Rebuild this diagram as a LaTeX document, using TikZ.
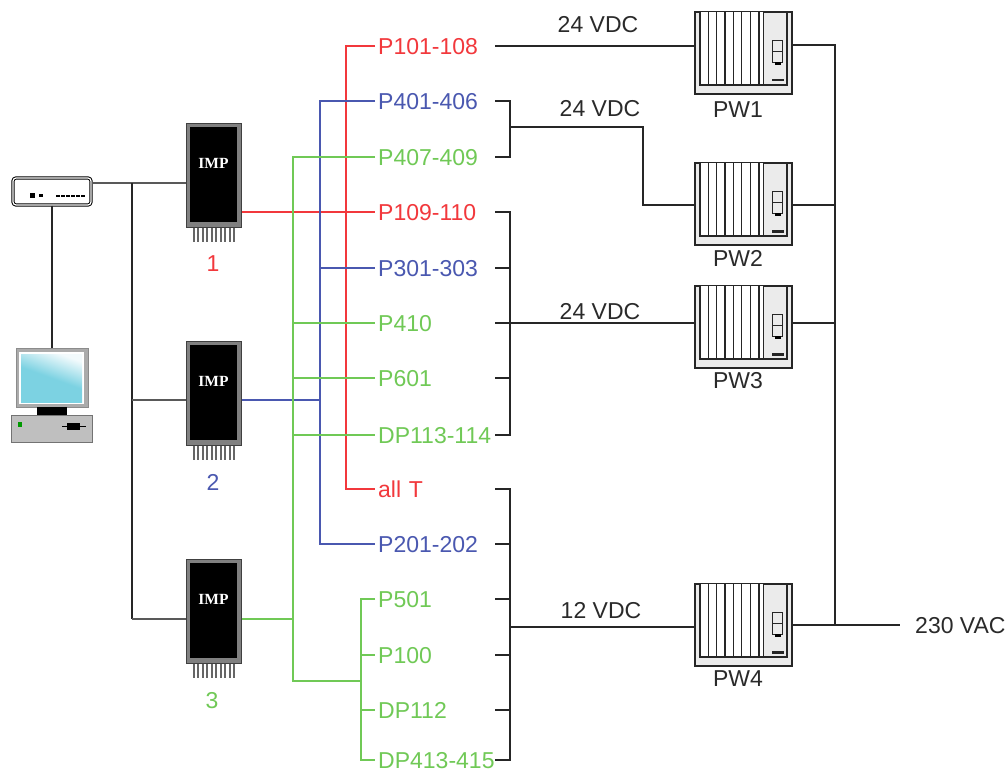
\documentclass[tikz,border=0pt]{standalone}
\usepackage{fontspec}
\setmainfont{Liberation Sans}
\newfontfamily\impfont{Liberation Serif}
\definecolor{cred}{HTML}{F2383C}
\definecolor{cblue}{HTML}{4A58B0}
\definecolor{cgreen}{HTML}{70C956}
\definecolor{ctext}{HTML}{2A2A2A}
\definecolor{scrA}{HTML}{F2FAFC}
\definecolor{scrB}{HTML}{7CD2E2}
\tikzset{
  wire/.style={line width=1.3pt,draw=black!85},
  rwire/.style={line width=1.3pt,draw=cred},
  bwire/.style={line width=1.3pt,draw=cblue},
  gwire/.style={line width=1.3pt,draw=cgreen},
  port/.style={anchor=west,inner xsep=3pt,inner ysep=0pt,text width=114pt,align=left,
    text height=16.5pt,text depth=0pt,font=\fontsize{23}{25}\selectfont},
  plain/.style={inner sep=0pt,text=ctext,font=\fontsize{23}{25}\selectfont},
  chipbody/.style={draw=black!75,line width=1pt,fill=black!50,minimum width=55pt,minimum height=104pt,inner sep=0pt},
  pwbody/.style={draw=black!85,line width=1.1pt,fill=black!8,minimum width=97pt,minimum height=82pt,inner sep=0pt},
}
\newcommand{\impchip}[3]{% name, cx, cy (centre of body)
  \foreach \k in {0,...,9} {\draw[black!60,line width=2pt] (#2-20+\k*4.5,#3+52) -- (#2-20+\k*4.5,#3+67);}
  \node[chipbody] (#1) at (#2,#3) {};
  \fill[black] (#2-23.5,#3-48) rectangle (#2+23.5,#3+46.5);
  \node[inner sep=0pt,text=white,font=\impfont\bfseries\fontsize{15.5}{16}\selectfont] at (#2,#3-12) {IMP};
}
\newcommand{\pwunit}[3]{% name, cx, cy
  \node[pwbody] (#1) at (#2,#3) {};
  \fill[white] (#2-43.5,#3-41) rectangle (#2+20,#3+32);
  \draw[black!85,line width=1.1pt] (#2-43.5,#3-41) -- (#2-43.5,#3+32) -- (#2+43.5,#3+32) -- (#2+43.5,#3-41);
  \foreach \k in {8.3,16.6,25,33.3,41.6,50.5,59,63.5} {\draw[black!85,line width=1.1pt] (#2-43.5+\k,#3-41) -- (#2-43.5+\k,#3+32);}
  \draw[black!85,line width=.9pt,fill=black!8] (#2+29,#3-13) rectangle (#2+39,#3+9);
  \draw[black!85,line width=.9pt] (#2+29,#3-2) -- (#2+39,#3-2);
  \fill[black] (#2+31,#3+9) rectangle (#2+37,#3+12);
  \fill[black!85] (#2+28,#3+26) rectangle (#2+40,#3+28.5);
}
\begin{document}
\begin{tikzpicture}[x=1pt,y=-1pt]
\useasboundingbox (0,0) rectangle (1008,773);
\fill[white] (0,0) rectangle (1008,773);
% switch
\node[draw=black,line width=1pt,double=white,double distance=1.2pt,rounded corners=3pt,fill=white,minimum width=78pt,minimum height=27pt,inner sep=0pt] (sw) at (52,191.5) {};
\fill[black] (30,193) rectangle (35,198);
\fill[black] (39,194) rectangle (43,197);
\foreach \k in {0,...,5} {\fill[black] (55.5+\k*5,194.5) rectangle (59.5+\k*5,197);}
% computer
\node[draw=black!45,line width=.8pt,fill=black!33,minimum width=72pt,minimum height=59pt,inner sep=0pt] (pc) at (52,378) {};
\fill[white] (19,352) rectangle (84,404);
\shade[left color=scrA,right color=scrB,shading angle=-20,middle color=scrB] (21,354) rectangle (82,402);
\fill[black] (37,407) rectangle (67,415);
\node[draw=black!55,line width=1pt,fill=black!25,minimum width=81pt,minimum height=27pt,inner sep=0pt] (tower) at (52,428.5) {};
\fill[green!60!black] (18,422) rectangle (22,427);
\fill[black] (62,425.5) rectangle (86,427);
\fill[black] (67,423) rectangle (80,429.5);
% chips
\impchip{imp1}{213.5}{175}
\impchip{imp2}{213.5}{393}
\impchip{imp3}{213.5}{611}
% labels
\node[port,text=cred] (p101) at (375,46) {P101-108};
\node[port,text=cblue] (p401) at (375,101) {P401-406};
\node[port,text=cgreen] (p407) at (375,157) {P407-409};
\node[port,text=cred] (p109) at (375,212) {P109-110};
\node[port,text=cblue] (p301) at (375,268) {P301-303};
\node[port,text=cgreen] (p410) at (375,323) {P410};
\node[port,text=cgreen] (p601) at (375,378) {P601};
\node[port,text=cgreen] (dp113) at (375,435) {DP113-114};
\node[port,text=cred] (allt) at (375,489) {all T};
\node[port,text=cblue] (p201) at (375,544) {P201-202};
\node[port,text=cgreen] (p501) at (375,599) {P501};
\node[port,text=cgreen] (p100) at (375,655) {P100};
\node[port,text=cgreen] (dp112) at (375,710) {DP112};
\node[port,text=cgreen] (dp413) at (375,760) {\mbox{DP413-415}};
% numbers
\node[inner sep=0pt,text=cred,font=\fontsize{23}{25}\selectfont] (n1) at (213,264) {1};
\node[inner sep=0pt,text=cblue,font=\fontsize{23}{25}\selectfont] (n2) at (213,482) {2};
\node[inner sep=0pt,text=cgreen,font=\fontsize{23}{25}\selectfont] (n3) at (212,701) {3};
% power units
\pwunit{pw1}{743.5}{53}
\pwunit{pw2}{743.5}{204}
\pwunit{pw3}{743.5}{327}
\pwunit{pw4}{743.5}{625}
\node[plain] (lpw1) at (738,110) {PW1};
\node[plain] (lpw2) at (738,258) {PW2};
\node[plain] (lpw3) at (738,381) {PW3};
\node[plain] (lpw4) at (738,679) {PW4};
\node[plain] (v1) at (598,25) {24 VDC};
\node[plain] (v2) at (600,109) {24 VDC};
\node[plain] (v3) at (600,312) {24 VDC};
\node[plain] (v4) at (601,611) {12 VDC};
\node[plain,anchor=west] (ac) at (915,626) {230 VAC};
% junctions
\coordinate (jnet) at (132,183);
\coordinate (jr) at (346,46);
\coordinate (jb) at (320,101);
\coordinate (jg) at (293,157);
\coordinate (jg2) at (361,599);
\coordinate (ba) at (510,127);
\coordinate (bb) at (510,323);
\coordinate (bc) at (510,627);
\coordinate (bus) at (835,45);
\coordinate (acend) at (900,625);
% network
\draw[wire,draw=black!65] (sw.east |- jnet) -- (imp1.west |- jnet);
\draw[wire] (jnet) -- (jnet |- 0,619);
\draw[wire,draw=black!65] (jnet |- 0,400) -- (imp2.west |- 0,400);
\draw[wire,draw=black!65] (jnet |- 0,619) -- (imp3.west |- 0,619);
\draw[wire] (sw.south) -- (pc.north);
% red
\draw[rwire] (p101.west) -- (jr) -- (jr |- allt.west) -- (allt.west);
\draw[rwire] (imp1.east |- p109.west) -- (p109.west);
% blue
\draw[bwire] (p401.west) -- (jb) -- (jb |- p201.west) -- (p201.west);
\draw[bwire] (jb |- p301.west) -- (p301.west);
\draw[bwire] (imp2.east |- 0,400) -- (jb |- 0,400);
% green
\draw[gwire] (p407.west) -- (jg) -- (jg |- 0,681) -- (jg2 |- 0,681);
\draw[gwire] (jg |- p410.west) -- (p410.west);
\draw[gwire] (jg |- p601.west) -- (p601.west);
\draw[gwire] (jg |- dp113.west) -- (dp113.west);
\draw[gwire] (imp3.east |- 0,619) -- (jg |- 0,619);
\draw[gwire] (p501.west) -- (jg2) -- (jg2 |- dp413.west) -- (dp413.west);
\draw[gwire] (jg2 |- p100.west) -- (p100.west);
\draw[gwire] (jg2 |- dp112.west) -- (dp112.west);
% right side
\draw[wire] (p101.east) -- (pw1.west |- p101.east);
\draw[wire] (p401.east) -- (ba |- p401.east) -- (ba |- p407.east) -- (p407.east);
\draw[wire] (ba) -- (643,127) -- (643,205) -- (pw2.west |- 0,205);
\draw[wire] (p109.east) -- (bb |- p109.east) -- (bb |- dp113.east) -- (dp113.east);
\draw[wire] (p301.east) -- (bb |- p301.east);
\draw[wire] (p601.east) -- (bb |- p601.east);
\draw[wire] (p410.east) -- (pw3.west |- p410.east);
\draw[wire] (allt.east) -- (bc |- allt.east) -- (bc |- dp413.east) -- (dp413.east);
\draw[wire] (p201.east) -- (bc |- p201.east);
\draw[wire] (p501.east) -- (bc |- p501.east);
\draw[wire] (p100.east) -- (bc |- p100.east);
\draw[wire] (dp112.east) -- (bc |- dp112.east);
\draw[wire] (bc) -- (pw4.west |- bc);
% supply bus
\draw[wire] (pw1.east |- bus) -- (bus) -- (bus |- acend);
\draw[wire] (pw2.east |- 0,205) -- (bus |- 0,205);
\draw[wire] (pw3.east |- 0,323) -- (bus |- 0,323);
\draw[wire] (pw4.east |- acend) -- (acend);
\end{tikzpicture}
\end{document}
